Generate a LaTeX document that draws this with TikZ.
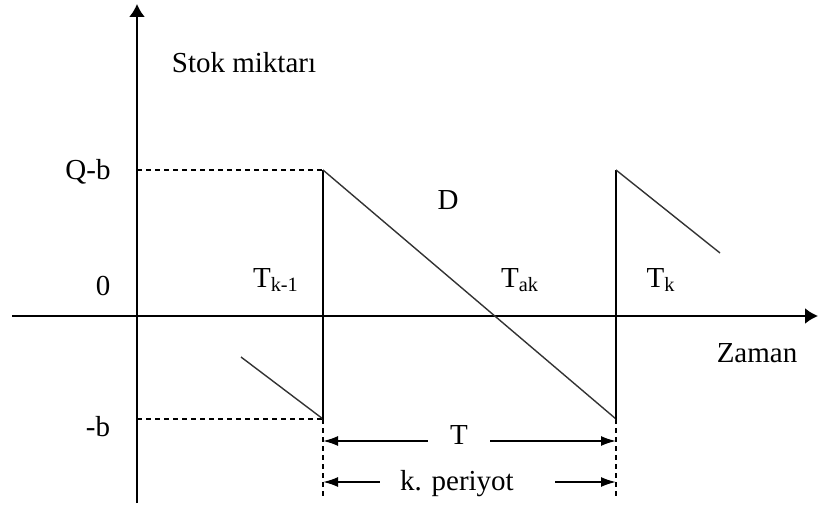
\documentclass[tikz,border=0pt]{standalone}
\usepackage{fontspec}
\setmainfont{Liberation Serif}
\usetikzlibrary{arrows.meta}

\tikzset{
  eksen/.style={-{Latex[length=6.5pt,width=8pt]},line width=1pt},
  stok/.style={line width=0.7pt,black!80},
  dikey/.style={line width=1pt},
  kesik/.style={line width=0.7pt,dash pattern=on 2.5pt off 2pt},
  olcu/.style={line width=0.9pt},
  ucsol/.style={olcu,{Latex[length=7.5pt,width=5pt]}-},
  ucsag/.style={olcu,-{Latex[length=7.5pt,width=5pt]}},
  yazi/.style={inner sep=1pt}
}

\begin{document}
\begin{tikzpicture}[x=0.5pt,y=-0.5pt,font=\fontsize{14.5}{17}\selectfont]

\useasboundingbox (0,0) rectangle (818,507);

% eksenler
\coordinate (xbas) at (12,316);
\coordinate (xson) at (818,316);
\coordinate (ybas) at (137,503);
\coordinate (yson) at (137,4);

\draw[eksen]
(xbas)
--
(xson);

\draw[eksen]
(ybas)
--
(yson);

% seviyeler
\coordinate (qeks) at (137,170);
\coordinate (beks) at (137,419);
\coordinate (q1) at (323,170);
\coordinate (b1) at (323,419);
\coordinate (q2) at (616,170);
\coordinate (b2) at (616,419);
\coordinate (alt1) at (323,499);
\coordinate (alt2) at (616,499);
\coordinate (bas0) at (241,357);
\coordinate (son3) at (720,253);

\draw[kesik] (qeks) -- (q1);
\draw[kesik] (beks) -- (b1);
\draw[kesik] (b1) -- (alt1);
\draw[kesik] (b2) -- (alt2);

% testere disi
\draw[stok] (bas0) -- (b1);
\draw[dikey] (b1) -- (q1);
\draw[stok] (q1) -- (b2);
\draw[dikey] (b2) -- (q2);
\draw[stok] (q2) -- (son3);

% yazilar
\node[yazi] (stok) at (244,63)
{Stok miktarı};

\node[yazi] (qb) at (88,172)
{Q-b};

\node[yazi] (sifir) at (103,286)
{0};

\node[yazi] (eksib) at (98,427)
{-b};

\node[yazi] (tk1) at (276,280)
{T\textsubscript{k-1}};

\node[yazi] (d) at (448,200)
{D};

\node[yazi] (tak) at (520,280)
{T\textsubscript{ak}};

\node[yazi] (tk) at (661,280)
{T\textsubscript{k}};

\node[yazi] (zaman) at (757,353)
{Zaman};

% periyot olculeri
\node[yazi] (t) at (459,435)
{T};

\node[yazi] (per) at (457,484)
{k. periyot};

\coordinate (t1) at (323,441);
\coordinate (t2) at (616,441);
\coordinate (ta) at (428,441);
\coordinate (tb) at (490,441);
\coordinate (p1) at (323,482);
\coordinate (p2) at (616,482);
\coordinate (pa) at (380,482);
\coordinate (pb) at (555,482);

\draw[ucsol] (t1) -- (ta);
\draw[ucsag] (tb) -- (t2);
\draw[ucsol] (p1) -- (pa);
\draw[ucsag] (pb) -- (p2);

\end{tikzpicture}
\end{document}
